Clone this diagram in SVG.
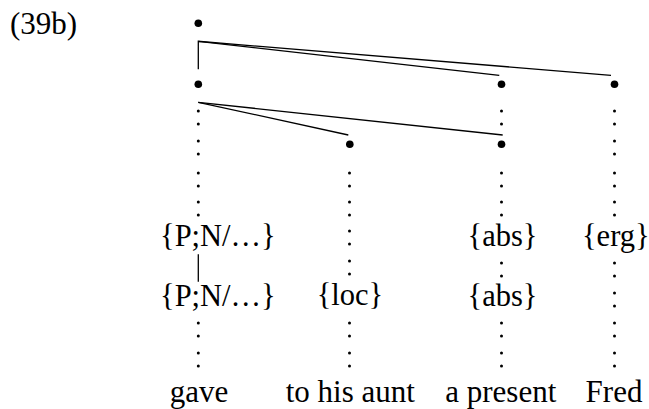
<svg xmlns="http://www.w3.org/2000/svg" width="649" height="409" viewBox="0 0 649 409">
  <style>
    .t { font-family: "Liberation Serif", "Times New Roman", serif; fill: #000; }
    .lab { font-size: 30.5px; }
    .word { font-size: 31px; }
    .node { fill: #000; }
    .d { fill: #000; }
    .ln { stroke: #000; stroke-width: 1.3; fill: none; }
  </style>
  <defs>
    <!-- one colon-like pair of association dots; the bottom dot sits at y=0 -->
    <g id="colon">
      <circle class="d" cx="0" cy="-13" r="1.5"/>
      <circle class="d" cx="0" cy="0" r="1.5"/>
    </g>
  </defs>

  <text class="t word" x="10" y="34">(39b)</text>

  <!-- tree nodes -->
  <g id="n-root"><circle class="node" cx="198.3" cy="23.3" r="3.8"/></g>
  <g id="n-verb"><circle class="node" cx="198.3" cy="84.3" r="3.8"/></g>
  <g id="n-abs-hi"><circle class="node" cx="501.5" cy="84.3" r="3.8"/></g>
  <g id="n-erg"><circle class="node" cx="614.5" cy="84.3" r="3.8"/></g>
  <g id="n-loc"><circle class="node" cx="349.8" cy="144.3" r="3.8"/></g>
  <g id="n-abs-lo"><circle class="node" cx="501.5" cy="144.3" r="3.8"/></g>

  <!-- category labels -->
  <g id="lab-pn1"><text class="t lab" x="160" y="246">{P;N/…}</text></g>
  <g id="lab-pn2"><text class="t lab" x="160" y="306">{P;N/…}</text></g>
  <g id="lab-loc"><text class="t lab" x="350" y="305" text-anchor="middle">{loc}</text></g>
  <g id="lab-abs1"><text class="t lab" x="502.5" y="246" text-anchor="middle">{abs}</text></g>
  <g id="lab-abs2"><text class="t lab" x="502.5" y="306" text-anchor="middle">{abs}</text></g>
  <g id="lab-erg"><text class="t lab" x="615.8" y="246" text-anchor="middle">{erg}</text></g>

  <!-- words -->
  <g id="w-gave"><text class="t word" x="199" y="402" text-anchor="middle">gave</text></g>
  <g id="w-aunt"><text class="t word" x="350.3" y="402" text-anchor="middle">to his aunt</text></g>
  <g id="w-present"><text class="t word" x="500.8" y="402" text-anchor="middle">a present</text></g>
  <g id="w-fred"><text class="t word" x="614" y="402" text-anchor="middle">Fred</text></g>

  <!-- connectors: dependency brackets and dotted association lines -->
  <g id="connectors">
    <polyline class="ln" points="198.3,69.3 198.3,41.3 611,75.3"/>
    <line class="ln" x1="198.3" y1="41.3" x2="499.3" y2="75.3"/>
    <line class="ln" x1="198.3" y1="102.3" x2="348.3" y2="135"/>
    <line class="ln" x1="198.3" y1="102.3" x2="502.7" y2="135"/>
    <line class="ln" x1="198.3" y1="254.3" x2="198.3" y2="281.7"/>

    <!-- gave column -->
    <g transform="translate(198.3,0)">
      <use href="#colon" y="124"/><use href="#colon" y="154"/>
      <use href="#colon" y="186"/><use href="#colon" y="215"/>
      <use href="#colon" y="336"/><use href="#colon" y="366"/>
    </g>
    <!-- to his aunt column -->
    <g transform="translate(349.5,0)">
      <use href="#colon" y="186"/><use href="#colon" y="215"/>
      <use href="#colon" y="244"/><use href="#colon" y="274"/>
      <use href="#colon" y="336"/><use href="#colon" y="366"/>
    </g>
    <!-- a present column -->
    <g transform="translate(501.5,0)">
      <use href="#colon" y="124"/>
      <use href="#colon" y="186"/><use href="#colon" y="215"/>
      <use href="#colon" y="276"/>
      <use href="#colon" y="336"/><use href="#colon" y="366"/>
    </g>
    <!-- Fred column -->
    <g transform="translate(614.5,0)">
      <use href="#colon" y="124"/><use href="#colon" y="154"/>
      <use href="#colon" y="186"/><use href="#colon" y="215"/>
      <use href="#colon" y="276"/><use href="#colon" y="306"/>
      <use href="#colon" y="336"/><use href="#colon" y="366"/>
    </g>
  </g>
</svg>
